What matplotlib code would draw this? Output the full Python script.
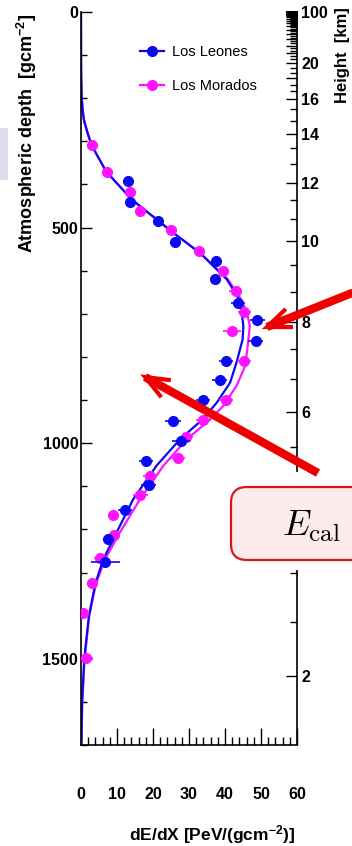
import numpy as np
import matplotlib
matplotlib.use("Agg")
import matplotlib.pyplot as plt
from matplotlib.lines import Line2D
from matplotlib.patches import FancyBboxPatch, Rectangle

plt.rcParams['font.family'] = ['Liberation Sans', 'DejaVu Sans']
plt.rcParams['mathtext.fontset'] = 'custom'
plt.rcParams['mathtext.rm'] = 'Liberation Sans:bold'
plt.rcParams['mathtext.it'] = 'Liberation Sans:bold:italic'
plt.rcParams['mathtext.bf'] = 'Liberation Sans:bold'

W, H = 352, 846

# --- measured energy deposit, Los Leones (blue) ---
ll_depth = [391, 441, 484, 534, 578, 620, 674, 715, 763, 809, 854, 900,
            948, 995, 1042, 1097, 1156, 1223, 1275]
ll_dedx = [13.1, 13.6, 21.5, 26.2, 37.5, 37.3, 43.6, 49.0, 48.5, 40.3, 38.5, 33.9,
           25.5, 27.8, 18.0, 18.8, 12.2, 7.6, 6.7]
ll_err = [1.0, 1.0, 1.0, 1.0, 1.5, 1.5, 2.0, 2.0, 2.0, 2.0, 2.0, 2.0,
          2.2, 2.5, 2.0, 2.0, 2.0, 1.5, 4.0]

# --- measured energy deposit, Los Morados (magenta) ---
lm_depth = [309, 370, 417, 461, 505, 554, 601, 647, 695, 740, 809, 900,
            946, 986, 1034, 1076, 1121, 1167, 1214, 1267, 1324, 1394, 1498]
lm_dedx = [3.0, 7.1, 13.6, 16.4, 25.0, 32.7, 39.5, 43.0, 45.3, 42.0, 45.3, 40.3,
           34.0, 29.2, 27.0, 19.1, 16.5, 9.0, 9.2, 5.2, 3.0, 0.6, 1.4]
lm_err = [0.8, 0.8, 1.0, 1.0, 1.0, 1.2, 1.5, 1.8, 1.8, 2.5, 2.0, 2.0,
          2.0, 2.0, 2.0, 2.0, 2.0, 1.5, 1.5, 1.5, 1.2, 1.0, 1.8]

# --- profile fits ---
fit_ll_depth = [0, 100, 150, 200, 230, 250, 280, 310, 370, 435, 481, 512, 559, 620,
                663, 694, 728, 759, 813, 860, 906, 944, 991, 1052, 1130, 1207,
                1269, 1325, 1400, 1500, 1600, 1700]
fit_ll_dedx = [0, 0.02, 0.05, 0.2, 0.5, 0.8, 1.8, 3.0, 7.0, 14.1, 21.0, 25.6, 33.1, 40.5,
               43.7, 44.6, 45.1, 44.9, 43.2, 41.4, 37.7, 33.9, 27.5, 21.0, 14.5, 9.9,
               6.2, 4.0, 2.2, 0.9, 0.3, 0.1]
fit_lm_depth = [0, 100, 150, 200, 230, 250, 280, 310, 370, 435, 481, 512, 559, 620,
                663, 694, 728, 782, 821, 867, 914, 952, 991, 1052, 1130, 1207,
                1269, 1325, 1400, 1500, 1600, 1700]
fit_lm_dedx = [0, 0.02, 0.05, 0.2, 0.5, 0.8, 1.8, 3.0, 7.0, 14.1, 21.0, 25.6, 33.1, 40.8,
               44.2, 46.0, 46.9, 46.2, 45.6, 43.2, 39.5, 34.9, 29.4, 22.9, 16.4, 10.8,
               6.7, 4.2, 2.3, 1.0, 0.35, 0.1]

# height [km] <-> slant depth [g/cm2] along the shower axis
height_km = [2, 6, 8, 10, 12, 14, 16, 20, 30, 100]
height_depth = [1539, 928, 718, 530, 396, 282, 201, 118, 42, 0.01]
height_labels = [2, 6, 8, 10, 12, 14, 16, 20, 100]

BLUE = '#0a0af0'
MAGENTA = '#ff14ff'


def px(x, y):
    return x / W, 1 - y / H


def depth_of(h):
    return np.exp(np.interp(h, height_km, np.log(height_depth)))


def red_arrow(fig, tail, tip, color='#ee0000', head=26, spread=22):
    # thick shaft plus a thinner open head, all in pixel units from the top-left
    tail, tip = np.array(tail, float), np.array(tip, float)
    back = np.degrees(np.arctan2(*(tail - tip)[::-1]))
    arms = [tip + head * np.array([np.cos(np.radians(back + s)), np.sin(np.radians(back + s))])
            for s in (-spread, spread)]
    shaft = np.array([tail, tip])
    headline = np.array([arms[0], tip, arms[1]])
    for pts, lw in ((shaft, 6), (headline, 3)):
        fig.add_artist(Line2D(pts[:, 0] / W, 1 - pts[:, 1] / H, transform=fig.transFigure,
                              color=color, lw=lw, solid_capstyle='butt',
                              solid_joinstyle='miter', zorder=5))


fig = plt.figure(figsize=(W / 100, H / 100), dpi=100)
ax = fig.add_axes([81 / W, 1 - 745 / H, (297 - 81) / W, (745 - 12) / H])

ax.plot(fit_lm_dedx, fit_lm_depth, color=MAGENTA, lw=1.6, zorder=2)
ax.plot(fit_ll_dedx, fit_ll_depth, color=BLUE, lw=1.6, zorder=2)
ax.errorbar(lm_dedx, lm_depth, xerr=lm_err, yerr=10, fmt='o', color=MAGENTA,
            ms=7, elinewidth=1.2, capsize=0, zorder=3)
ax.errorbar(ll_dedx, ll_depth, xerr=ll_err, yerr=10, fmt='o', color=BLUE,
            ms=7, elinewidth=1.2, capsize=0, zorder=4)

ax.set_xlim(0, 60)
ax.set_ylim(1700, 0)
ax.set_xticks(np.arange(0, 61, 10))
ax.set_xticks(np.arange(0, 61, 2), minor=True)
ax.set_yticks([0, 500, 1000, 1500])
ax.set_yticks(np.arange(0, 1701, 100), minor=True)
ax.tick_params(which='both', direction='in', width=1.0, labelsize=11.5)
ax.tick_params(axis='x', which='major', length=12, pad=30)
ax.tick_params(axis='x', which='minor', length=6)
ax.tick_params(axis='y', which='major', length=8, pad=2)
ax.tick_params(axis='y', which='minor', length=4)
for lab in ax.get_xticklabels() + ax.get_yticklabels():
    lab.set_fontweight('bold')
ax.spines['top'].set_visible(False)
ax.spines['right'].set_visible(False)
for s in ('left', 'bottom'):
    ax.spines[s].set_linewidth(1.2)

# height scale on the right, broken where the label box sits
gap = (1065, 1295)
ax2 = ax.twinx()
ax2.set_ylim(1700, 0)
major_h = np.arange(2, 101, 2)
minor_h = np.array([h for h in np.arange(2, 100, 2 / 3) if abs(h / 2 - round(h / 2)) > 0.01])
maj_d = [d for d in depth_of(major_h) if not gap[0] < d < gap[1]]
min_d = [d for d in depth_of(minor_h) if not gap[0] < d < gap[1]]
ax2.set_yticks(maj_d)
ax2.set_yticklabels([f'{h:g}' if h in height_labels else '' for h in major_h
                     if not gap[0] < depth_of(h) < gap[1]])
ax2.set_yticks(min_d, minor=True)
ax2.tick_params(which='both', direction='in', width=1.0, labelsize=11.5, pad=3)
ax2.tick_params(which='major', length=8)
ax2.tick_params(which='minor', length=5)
for lab in ax2.get_yticklabels():
    lab.set_fontweight('bold')
for s in ('top', 'left', 'bottom'):
    ax2.spines[s].set_visible(False)
ax2.spines['right'].set_bounds(0, gap[0])
ax2.spines['right'].set_linewidth(1.2)
ax2.plot([60, 60], [gap[1], 1700], color='black', lw=1.2, clip_on=False,
         solid_capstyle='butt')

# legend
handles = [Line2D([], [], color=BLUE, marker='o', ms=7, lw=1.6, label='Los Leones'),
           Line2D([], [], color=MAGENTA, marker='o', ms=7, lw=1.6, label='Los Morados')]
ax.legend(handles=handles, loc='upper left', bbox_to_anchor=px(140, 45),
          bbox_transform=fig.transFigure, frameon=False, fontsize=10.5,
          borderpad=0, borderaxespad=0, handlelength=1.65, handletextpad=0.55,
          labelspacing=1.4)

# axis titles
fig.text(*px(27, 133), 'Atmospheric depth  [gcm$^{-2}$]', rotation=90,
         ha='center', va='center', fontsize=13, fontweight='bold')
fig.text(*px(342, 55), 'Height  [km]', rotation=90, ha='center', va='center',
         fontsize=12, fontweight='bold')
fig.text(*px(212, 835), 'dE/dX [PeV/(gcm$^{-2}$)]', ha='center', va='center',
         fontsize=12.5, fontweight='bold')

# faint backdrop shape at the left edge
fig.add_artist(Rectangle(px(0, 180), 8 / W, 52 / H, transform=fig.transFigure,
                         facecolor='#dcdcef', edgecolor='none', zorder=0))

# callout arrows
red_arrow(fig, (372, 285), (267, 327))
red_arrow(fig, (318, 473), (145, 377))

# calibrated energy box
fig.add_artist(FancyBboxPatch(px(231, 560), 160 / W, 73 / H, transform=fig.transFigure,
                              boxstyle='round,pad=0,rounding_size=0.045',
                              facecolor='#fdeaea', edgecolor='#d81818', lw=1.6,
                              zorder=6, mutation_aspect=W / H))
fig.text(*px(311, 526), r'$E_{\mathrm{cal}}$', ha='center', va='center',
         fontsize=26, zorder=7, math_fontfamily='cm')

fig.savefig('out.png', dpi=100)
